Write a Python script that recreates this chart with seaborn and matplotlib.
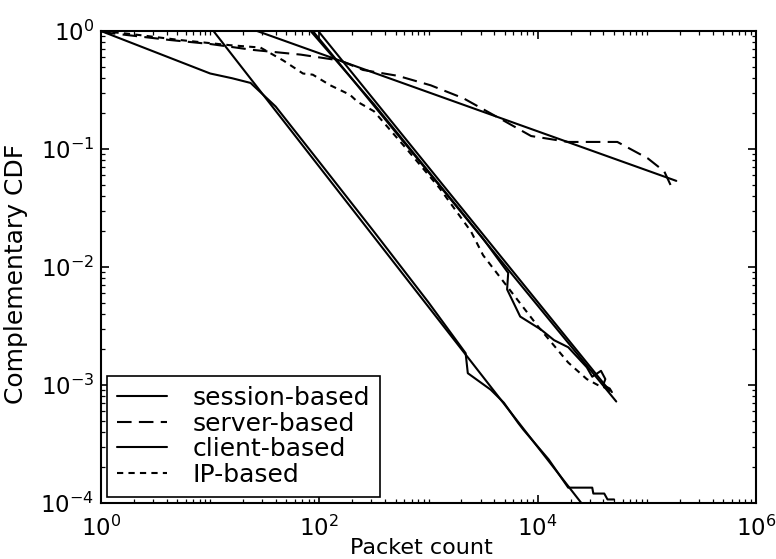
import matplotlib
matplotlib.use("Agg")
import matplotlib.pyplot as plt
import seaborn as sns
import pandas as pd
from matplotlib.ticker import LogLocator, LogFormatterMathtext, NullFormatter

# ---- data (log10 of packet count, log10 of complementary CDF) ----
session_logx = [0.0, 0.5, 1.0, 1.2, 1.37, 1.6, 2.0, 2.5, 3.0, 3.34, 3.36, 3.57, 3.69,
                3.82, 3.87, 4.1, 4.28, 4.50, 4.51, 4.61, 4.64, 4.70]
session_logy = [0.0, -0.18, -0.36, -0.40, -0.44, -0.64, -1.11, -1.70, -2.30, -2.73, -2.90,
                -3.04, -3.15, -3.32, -3.38, -3.63, -3.87, -3.87, -3.92, -3.92, -3.97, -3.97]

server_logx = [0.0, 0.08, 0.63, 1.0, 1.39, 1.83, 2.19, 2.40, 2.72, 3.02, 3.32, 3.69, 3.94,
               4.28, 4.73, 5.01, 5.16, 5.24]
server_logy = [0.0, -0.017, -0.076, -0.11, -0.16, -0.20, -0.25, -0.33, -0.38, -0.46, -0.57,
               -0.76, -0.89, -0.94, -0.94, -1.08, -1.19, -1.35]

client_logx = [1.92, 2.5, 3.0, 3.3, 3.5, 3.73, 3.72, 3.84, 4.03, 4.15, 4.28, 4.39, 4.45,
               4.50, 4.58, 4.62, 4.60, 4.66, 4.68]
client_logy = [0.0, -0.62, -1.19, -1.53, -1.76, -2.05, -2.19, -2.42, -2.53, -2.62, -2.68,
               -2.79, -2.85, -2.93, -2.88, -2.95, -3.00, -3.03, -3.06]

ip_logx = [0.0, 0.27, 0.72, 1.18, 1.46, 1.67, 1.85, 1.94, 2.10, 2.28, 2.35, 2.50, 2.8, 3.1,
           3.39, 3.50, 3.75, 4.0, 4.28, 4.45, 4.55, 4.67]
ip_logy = [0.0, -0.025, -0.076, -0.12, -0.14, -0.25, -0.36, -0.37, -0.46, -0.54, -0.60,
           -0.68, -1.00, -1.33, -1.70, -1.90, -2.20, -2.50, -2.81, -2.95, -3.00, -3.04]

# fitted power-law lines (start / end points)
fit_session_logx = [1.03, 4.40]
fit_session_logy = [0.0, -4.0]
fit_server_logx = [1.43, 5.27]
fit_server_logy = [0.0, -1.27]
fit_client_logx = [1.94, 4.72]
fit_client_logy = [0.0, -3.14]
fit_ip_logx = [1.99, 4.66]
fit_ip_logy = [0.0, -3.05]

labels = ["session-based", "server-based", "client-based", "IP-based"]


def to_df(lx, ly):
    return pd.DataFrame({"x": [10 ** v for v in lx], "y": [10 ** v for v in ly]})


sns.set_theme(style="ticks")
plt.rcParams["font.family"] = ["DejaVu Sans"]
plt.rcParams["mathtext.default"] = "regular"
plt.rcParams["xtick.direction"] = "in"
plt.rcParams["ytick.direction"] = "in"
for key in ["text.color", "axes.labelcolor", "xtick.color", "ytick.color", "axes.edgecolor"]:
    plt.rcParams[key] = "black"

fig = plt.figure(figsize=(7.76, 5.59), dpi=100)
ax = fig.add_axes([0.1302, 0.1002, 0.844, 0.8443])

lw = 1.5
common = dict(ax=ax, x="x", y="y", estimator=None, sort=False, color="black", linewidth=lw)

# fitted lines
for lx, ly in [(fit_session_logx, fit_session_logy), (fit_server_logx, fit_server_logy),
               (fit_client_logx, fit_client_logy), (fit_ip_logx, fit_ip_logy)]:
    sns.lineplot(data=to_df(lx, ly), legend=False, **common)

styles = ["-", (0, (7, 3.5)), "-", (0, (3, 2.5))]
series = [(session_logx, session_logy), (server_logx, server_logy),
          (client_logx, client_logy), (ip_logx, ip_logy)]
handles = []
for (lx, ly), ls, lab in zip(series, styles, labels):
    sns.lineplot(data=to_df(lx, ly), linestyle=ls, legend=False, **common)
    line = ax.lines[-1]
    line.set_label(lab)
    handles.append(line)

ax.set_xscale("log")
ax.set_yscale("log")
ax.set_xlim(1, 1e6)
ax.set_ylim(1e-4, 1)

ax.xaxis.set_major_locator(LogLocator(base=100.0, numticks=10))
ax.xaxis.set_minor_locator(LogLocator(base=10.0, subs=[1, 2, 3, 4, 5, 6, 7, 8, 9], numticks=20))
ax.xaxis.set_major_formatter(LogFormatterMathtext(base=10.0))
ax.xaxis.set_minor_formatter(NullFormatter())
ax.yaxis.set_major_locator(LogLocator(base=10.0, numticks=10))
ax.yaxis.set_minor_locator(LogLocator(base=10.0, subs=[2, 3, 4, 5, 6, 7, 8, 9], numticks=20))
ax.yaxis.set_major_formatter(LogFormatterMathtext(base=10.0))
ax.yaxis.set_minor_formatter(NullFormatter())

ax.tick_params(which="both", direction="in", top=True, right=True, colors="black")
ax.tick_params(which="major", length=6, width=1.2, labelsize=16.5)
ax.tick_params(axis="y", which="major", pad=5)
ax.tick_params(axis="x", which="major", pad=9)
ax.tick_params(which="minor", length=3, width=0.9)
for sp in ax.spines.values():
    sp.set_visible(True)
    sp.set_color("black")
    sp.set_linewidth(1.5)

ax.set_xlabel("Packet count", fontsize=16)
ax.set_ylabel("Complementary CDF", fontsize=18)
ax.xaxis.set_label_coords(0.489, -0.074)
ax.yaxis.set_label_coords(-0.111, 0.485)

leg = ax.legend(handles=handles, labels=labels, loc="lower left", fontsize=18,
                frameon=True, fancybox=False, framealpha=1, edgecolor="black",
                borderpad=0.4, labelspacing=0.06, handlelength=2.0, handletextpad=1.0,
                borderaxespad=0.25)
leg.get_frame().set_linewidth(1.2)

fig.savefig("out.png", dpi=100)
